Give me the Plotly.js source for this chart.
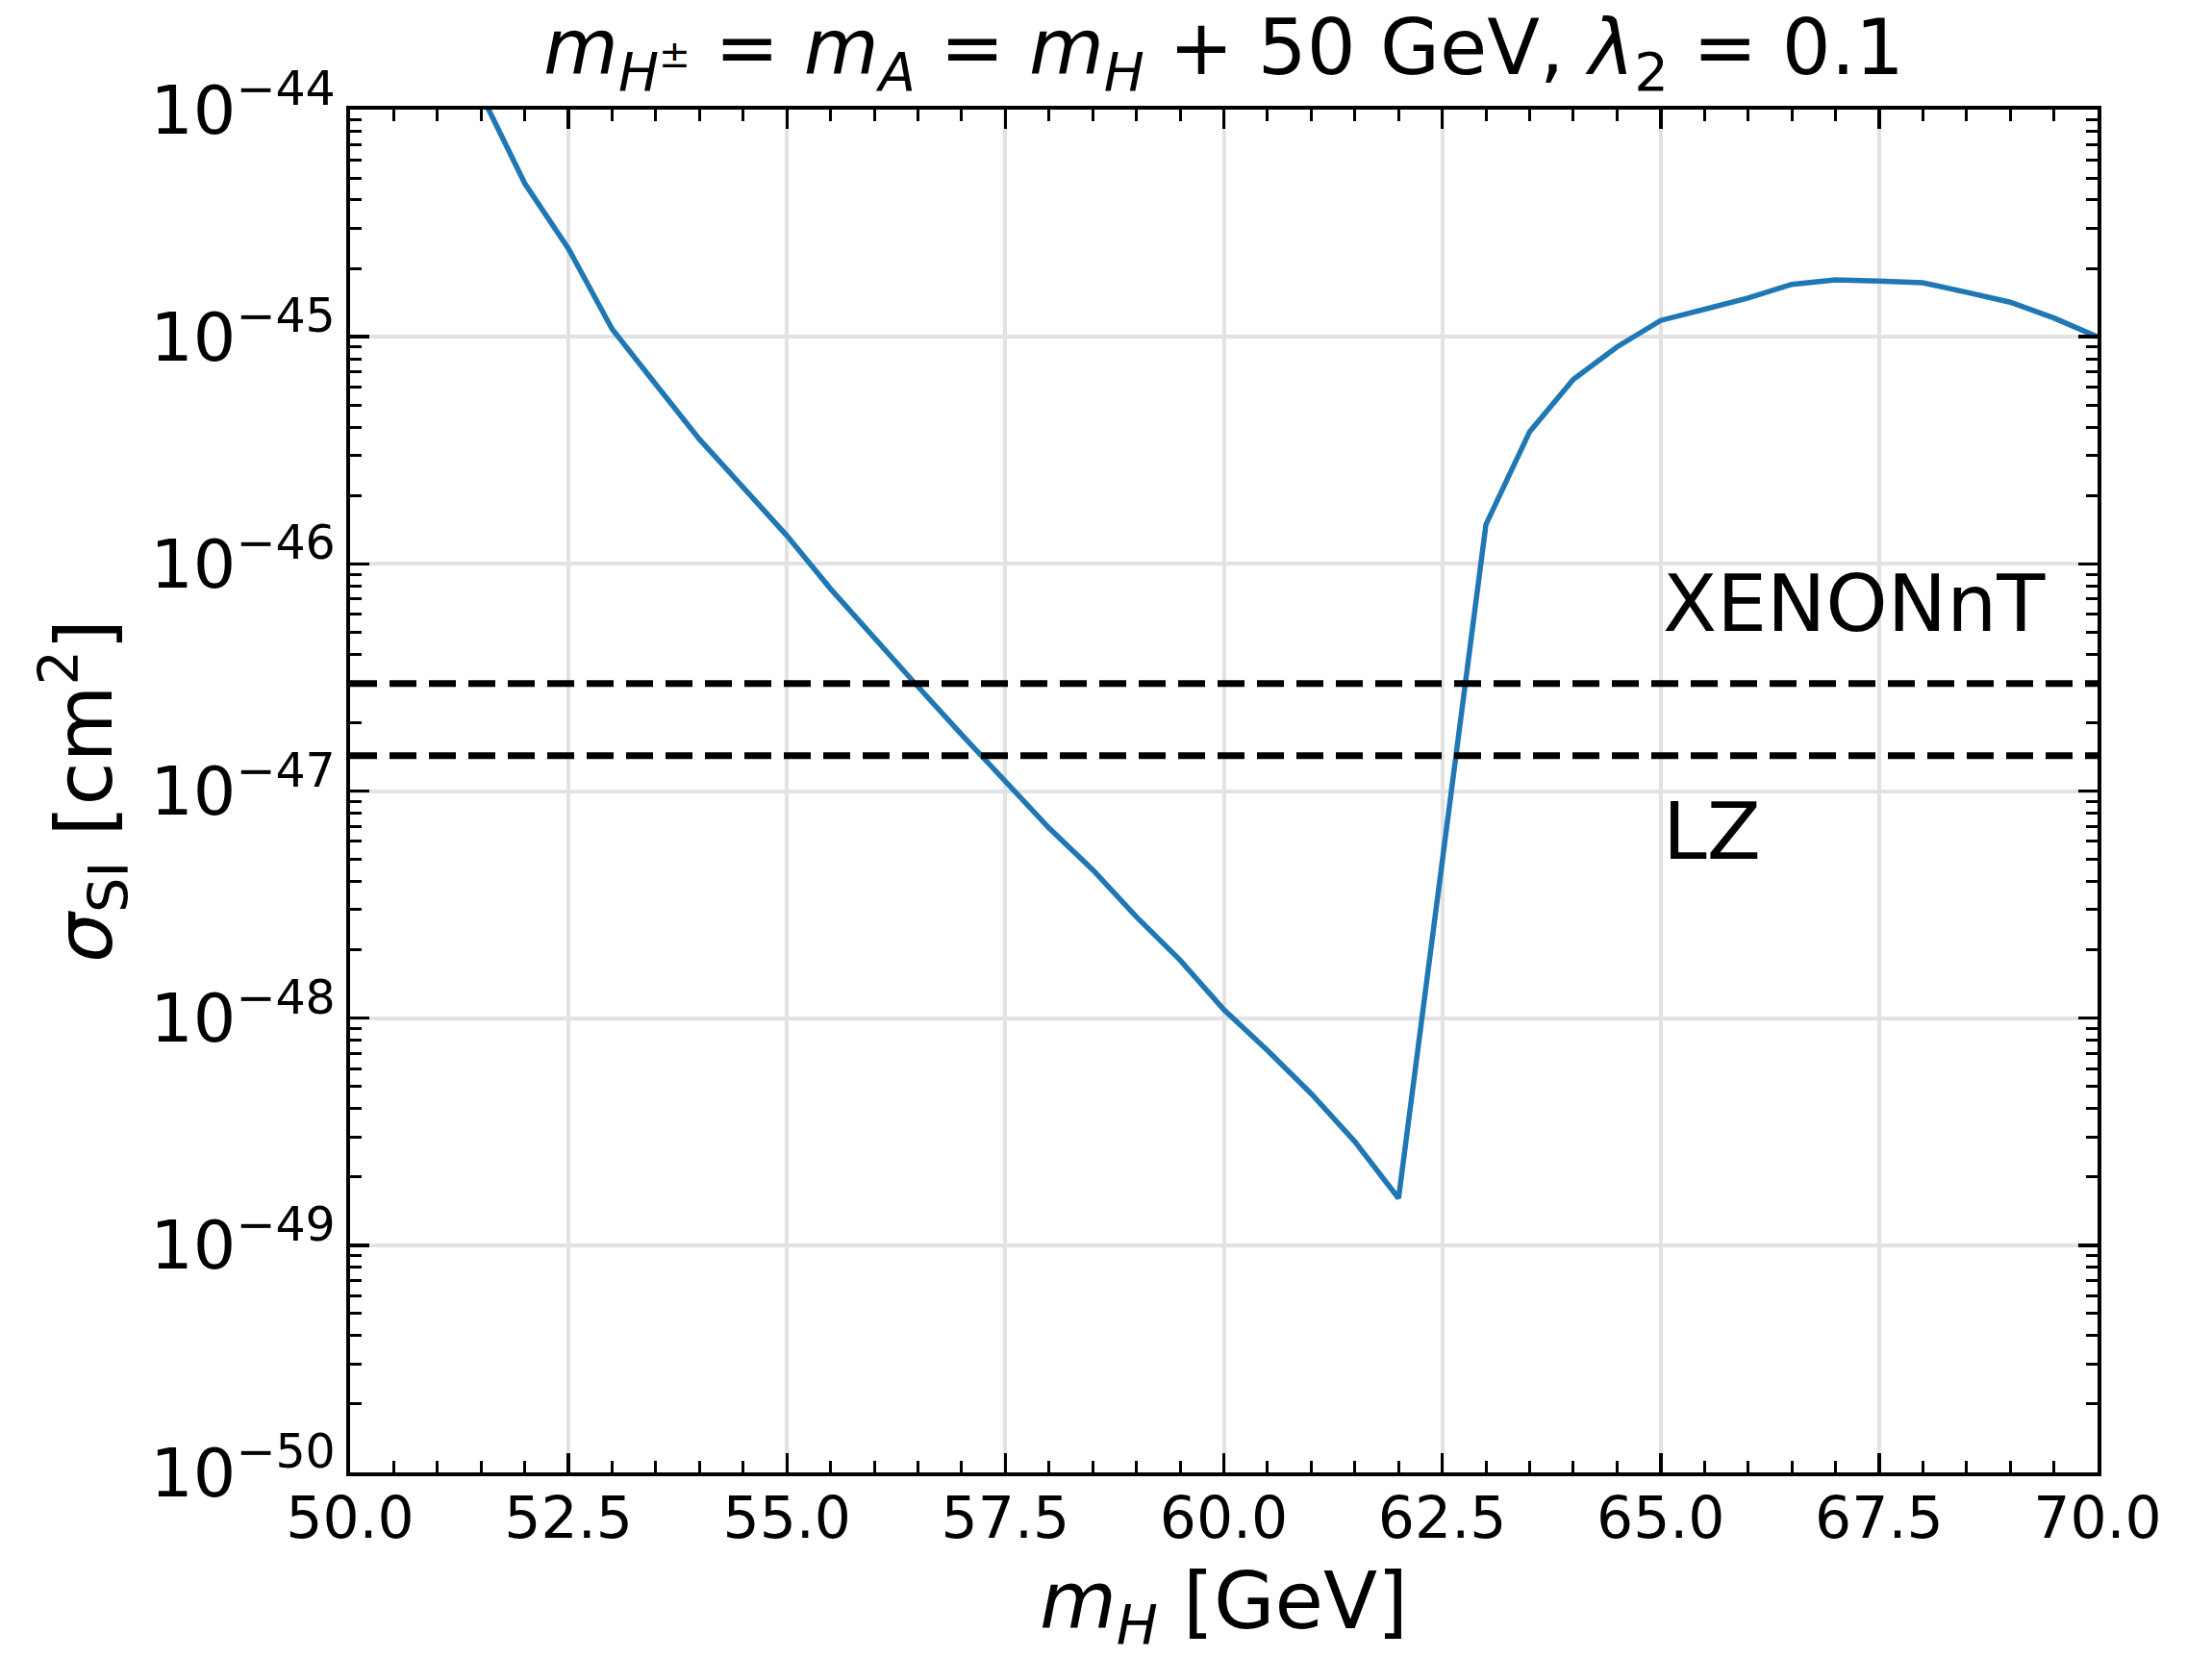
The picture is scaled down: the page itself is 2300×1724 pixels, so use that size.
<!DOCTYPE html>
<html>
<head>
<meta charset="utf-8">
<script src="https://cdn.plot.ly/plotly-3.0.1.min.js"></script>
<style>
  html, body { margin: 0; padding: 0; background: #ffffff; }
  #chart { width: 2300px; height: 1724px; }
</style>
</head>
<body>
<div id="chart"></div>
<script>
// Inert scalar dark matter: spin-independent cross section vs. m_H
const massH = [51.5, 52.0, 52.5, 53.0, 53.5, 54.0, 54.5, 55.0, 55.5, 56.0,
               56.5, 57.0, 57.5, 58.0, 58.5, 59.0, 59.5, 60.0, 60.5, 61.0,
               61.5, 62.0, 63.0, 63.5, 64.0, 64.5, 65.0, 65.5, 66.0, 66.5,
               67.0, 67.5, 68.0, 68.5, 69.0, 69.5, 70.0];
const sigmaSI = [1.17e-44, 4.73e-45, 2.44e-45, 1.08e-45, 6.17e-46, 3.53e-46, 2.17e-46, 1.33e-46, 7.76e-47, 4.68e-47,
                 2.88e-47, 1.77e-47, 1.10e-47, 6.87e-48, 4.50e-48, 2.79e-48, 1.80e-48, 1.09e-48, 7.21e-49, 4.65e-49,
                 2.86e-49, 1.61e-49, 1.49e-46, 3.82e-46, 6.49e-46, 9.02e-46, 1.18e-45, 1.32e-45, 1.48e-45, 1.70e-45,
                 1.78e-45, 1.76e-45, 1.73e-45, 1.57e-45, 1.42e-45, 1.21e-45, 1.00e-45];

// Direct-detection upper limits
const limitNames = ['XENONnT', 'LZ'];
const limitValues = [2.97e-47, 1.43e-47];

// Axis extents and ticks
const xRange = [50, 70];
const yRangeExp = [-50, -44];
const xTickVals = [50, 52.5, 55, 57.5, 60, 62.5, 65, 67.5, 70];
const xTickText = ['50.0', '52.5', '55.0', '57.5', '60.0', '62.5', '65.0', '67.5', '70.0'];

const FONT = 'DejaVu Sans, Verdana, sans-serif';

const traces = [
  {
    x: massH,
    y: sigmaSI,
    type: 'scatter',
    mode: 'lines',
    line: { color: '#1f77b4', width: 5.5 },
    showlegend: false,
    hoverinfo: 'x+y'
  }
];

limitValues.forEach(function (v, i) {
  traces.push({
    x: [xRange[0], xRange[1]],
    y: [v, v],
    type: 'scatter',
    mode: 'lines',
    name: limitNames[i],
    line: { color: '#000000', width: 7, dash: '28px,13px' },
    showlegend: false
  });
});

// Labels for the limit lines, written just above/below them
const labelX = 65;
const labelY = [5e-47, 5e-48];
const annotations = limitNames.map(function (name, i) {
  return {
    x: labelX,
    y: Math.log10(labelY[i]),
    xref: 'x',
    yref: 'y',
    text: name,
    showarrow: false,
    xanchor: 'left',
    yanchor: 'bottom',
    yshift: -20,
    font: { family: FONT, size: 82, color: '#000000' }
  };
});

const axisCommon = {
  showline: true,
  linecolor: '#000000',
  linewidth: 4,
  mirror: 'allticks',
  ticks: 'inside',
  ticklen: 20,
  tickwidth: 3.5,
  tickcolor: '#000000',
  showgrid: true,
  gridcolor: '#e2e2e2',
  gridwidth: 4,
  zeroline: false
};

const layout = {
  width: 2300,
  height: 1724,
  paper_bgcolor: '#ffffff',
  plot_bgcolor: '#ffffff',
  margin: { l: 364, r: 119, t: 114, b: 193 },
  font: { family: FONT, color: '#000000' },
  title: {
    text: '<i>m</i><sub><i>H</i><sup>±</sup></sub> = <i>m</i><sub><i>A</i></sub> = <i>m</i><sub><i>H</i></sub> + 50 GeV, <i>λ</i><sub>2</sub> = 0.1',
    font: { family: FONT, size: 80, color: '#000000' },
    x: 0.5,
    xref: 'paper',
    xanchor: 'center',
    y: 1 - 49 / 1724,
    yref: 'container',
    yanchor: 'middle'
  },
  xaxis: Object.assign({}, axisCommon, {
    range: xRange,
    tickmode: 'array',
    tickvals: xTickVals,
    ticktext: xTickText,
    tickfont: { family: FONT, size: 60, color: '#000000' },
    ticklabelstandoff: -8,
    minor: { ticks: 'inside', ticklen: 12, tickwidth: 3, tickcolor: '#000000', dtick: 0.5, tick0: 50, showgrid: false },
    title: {
      text: '<i>m</i><sub><i>H</i></sub> [GeV]',
      font: { family: FONT, size: 82, color: '#000000' },
      standoff: 34
    }
  }),
  yaxis: Object.assign({}, axisCommon, {
    type: 'log',
    range: yRangeExp,
    dtick: 1,
    exponentformat: 'power',
    tickfont: { family: FONT, size: 56, color: '#000000' },
    minor: { ticks: 'inside', ticklen: 12, tickwidth: 3, tickcolor: '#000000', dtick: 'D1', showgrid: false },
    title: {
      text: '<i>σ</i><sub>SI</sub> [cm<sup>2</sup>]',
      font: { family: FONT, size: 82, color: '#000000' },
      standoff: 14
    }
  }),
  annotations: annotations,
  showlegend: false
};

Plotly.newPlot('chart', traces, layout, { displayModeBar: false, staticPlot: true });
</script>
</body>
</html>
